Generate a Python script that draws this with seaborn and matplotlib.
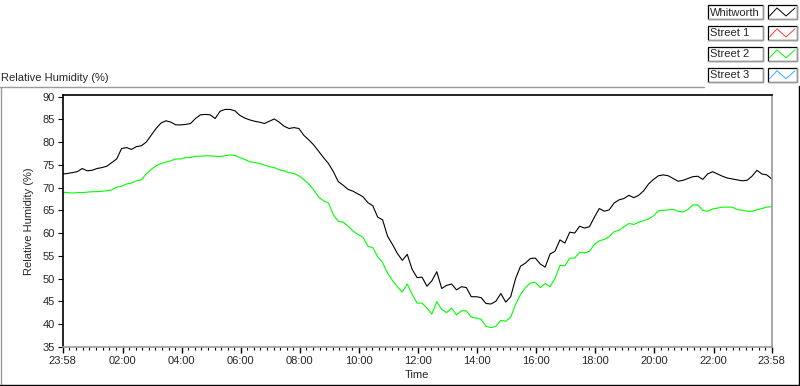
import numpy as np
import pandas as pd
import matplotlib
matplotlib.use("Agg")
import matplotlib.pyplot as plt
import seaborn as sns
from matplotlib.patches import Rectangle

# samples every 10 minutes, counted from 23:58 (one row = 2 hours)
elapsed_min = np.arange(0, 1441, 10)

whitworth = [
    73.0, 73.1, 73.3, 73.5, 74.2, 73.7, 73.8, 74.2, 74.4, 74.7, 75.5, 76.3,
    78.6, 78.8, 78.4, 79.0, 79.2, 80.0, 81.5, 83.0, 84.2, 84.7, 84.4, 83.8,
    83.8, 83.9, 84.1, 85.2, 86.0, 86.1, 86.0, 85.2, 86.8, 87.2, 87.2, 86.9,
    85.9, 85.3, 84.9, 84.6, 84.4, 84.1, 84.6, 85.1, 84.4, 83.5, 83.0, 83.2,
    83.0, 81.5, 80.5, 79.4, 78.0, 76.6, 75.3, 73.5, 71.3, 70.5, 69.6, 69.2,
    68.6, 68.0, 66.7, 66.0, 63.5, 62.9, 59.3, 57.5, 55.5, 54.0, 55.3, 52.0,
    50.2, 50.3, 48.3, 49.5, 51.5, 47.8, 48.5, 48.8, 47.5, 48.2, 48.0, 46.0,
    46.0, 45.8, 44.5, 44.4, 45.0, 46.7, 44.8, 46.0, 50.0, 52.7, 53.4, 54.4,
    54.5, 53.2, 52.5, 55.4, 56.0, 58.5, 57.8, 60.2, 60.0, 61.5, 61.1, 61.4,
    63.5, 65.4, 64.8, 65.1, 66.6, 67.3, 67.6, 68.3, 67.8, 68.3, 69.3, 70.8,
    71.8, 72.6, 72.8, 72.6, 72.0, 71.4, 71.6, 72.0, 72.4, 72.5, 71.8, 73.0,
    73.5, 73.0, 72.5, 72.1, 71.9, 71.7, 71.5, 71.6, 72.5, 73.8, 73.0, 72.8,
    71.9,
]

street_2 = [
    69.0, 68.9, 68.8, 68.9, 68.9, 69.0, 69.1, 69.1, 69.2, 69.3, 69.5, 70.1,
    70.3, 70.8, 71.0, 71.5, 71.7, 73.0, 74.0, 74.8, 75.3, 75.6, 75.9, 76.3,
    76.3, 76.6, 76.6, 76.9, 76.9, 77.0, 77.0, 76.9, 76.8, 77.0, 77.2, 77.1,
    76.6, 76.2, 75.7, 75.5, 75.3, 75.0, 74.6, 74.4, 73.9, 73.7, 73.3, 73.1,
    72.6, 71.8, 70.8, 69.5, 67.9, 67.1, 66.6, 64.0, 62.6, 62.4, 61.5, 60.4,
    59.7, 59.1, 57.1, 56.8, 54.8, 53.5, 51.2, 49.6, 48.2, 47.0, 48.8, 46.5,
    44.6, 44.6, 43.5, 42.2, 44.9, 43.2, 42.5, 43.5, 42.0, 42.9, 42.9, 41.5,
    41.3, 41.0, 39.5, 39.2, 39.5, 40.8, 40.6, 41.5, 44.3, 46.5, 48.0, 49.0,
    49.2, 48.0, 48.9, 48.2, 50.0, 52.9, 52.8, 54.5, 54.5, 55.8, 55.6, 56.0,
    57.5, 58.3, 58.6, 59.2, 60.3, 60.6, 61.4, 62.1, 61.9, 62.4, 62.7, 63.1,
    63.8, 64.9, 65.0, 65.1, 65.2, 64.8, 64.6, 65.2, 66.2, 66.2, 65.0, 64.8,
    65.3, 65.5, 65.7, 65.7, 65.7, 65.2, 65.0, 64.8, 64.8, 65.1, 65.4, 65.7,
    65.8,
]

time_labels = ["23:58", "02:00", "04:00", "06:00", "08:00", "10:00", "12:00",
               "14:00", "16:00", "18:00", "20:00", "22:00", "23:58"]
time_ticks = [0, 122, 242, 362, 482, 602, 722, 842, 962, 1082, 1202, 1322, 1440]
rh_ticks = [35, 40, 45, 50, 55, 60, 65, 70, 75, 80, 85, 90]

legend_names = ["Whitworth", "Street 1", "Street 2", "Street 3"]
legend_colors = ["#000000", "#ff3b3b", "#00ff00", "#33aaff"]

df = pd.concat([
    pd.DataFrame({"minutes": elapsed_min, "rh": whitworth, "site": "Whitworth"}),
    pd.DataFrame({"minutes": elapsed_min, "rh": street_2, "site": "Street 2"}),
])

sns.set_style("white")
plt.rcParams["font.family"] = ["Liberation Sans", "DejaVu Sans"]

fig = plt.figure(figsize=(8, 3.86), dpi=100)
ax = fig.add_axes([62.5 / 800, 1 - 347.3 / 386, (771.7 - 62.5) / 800, (347.3 - 95) / 386])

sns.lineplot(data=df, x="minutes", y="rh", hue="site",
             palette={"Whitworth": "#000000", "Street 2": "#00ff00"},
             estimator=None, legend=False, linewidth=0.8, ax=ax)

ax.set_xlim(0, 1440)
ax.set_ylim(34.87, 90.37)
ax.set_xticks(time_ticks)
ax.set_xticklabels(time_labels)
minor = []
for a, b in zip(time_ticks[:-1], time_ticks[1:]):
    minor.extend(np.linspace(a, b, 10)[1:-1])
ax.set_xticks(minor, minor=True)
ax.set_yticks(rh_ticks)

ax.tick_params(axis="x", which="major", direction="out", length=4, width=1,
               color="black", pad=2, labelsize=8, bottom=True)
ax.tick_params(axis="x", which="minor", direction="out", length=2.2, width=0.8,
               color="black", bottom=True)
ax.tick_params(axis="y", direction="out", length=3.6, width=0.8,
               color="black", pad=2, labelsize=8, left=True)

ax.set_xlabel("Time", fontsize=8, labelpad=3)
ax.set_ylabel("Relative Humidity (%)", fontsize=8, labelpad=6)

for side in ["left", "top"]:
    ax.spines[side].set_color("black")
    ax.spines[side].set_linewidth(1.2)
for side in ["right", "bottom"]:
    ax.spines[side].set_color("#9a9a9a")
    ax.spines[side].set_linewidth(1.2)

# panel decorations in pixel coordinates
ov = fig.add_axes([0, 0, 1, 1], facecolor="none")
ov.set_xlim(0, 800)
ov.set_ylim(386, 0)
ov.axis("off")

ov.plot([0, 704], [86.5, 86.5], color="#9a9a9a", lw=1)
ov.plot([0.5, 0.5], [86.5, 386], color="#9a9a9a", lw=1)
ov.plot([0, 800], [385.3, 385.3], color="black", lw=1)
ov.plot([799.3, 799.3], [86, 386], color="black", lw=1)
ov.text(1, 78, "Relative Humidity (%)", fontsize=8, va="center", ha="left")

for i, (name, col) in enumerate(zip(legend_names, legend_colors)):
    top = 5 + i * 20.9
    for x0, w in [(708.3, 54.4), (767.7, 29)]:
        ov.add_patch(Rectangle((x0, top), w, 14, facecolor="white",
                               edgecolor="black", lw=0.9))
        ov.plot([x0 + w, x0 + w, x0], [top, top + 14, top + 14],
                color="#9a9a9a", lw=0.9)
    ov.text(710, top + 7.5, name, fontsize=8, va="center", ha="left")
    zx = [769.5, 777, 786, 795]
    zy = [top + 11, top + 3, top + 11, top + 3]
    ov.plot(zx, zy, color=col, lw=0.7)

fig.savefig("out.png", dpi=100)
